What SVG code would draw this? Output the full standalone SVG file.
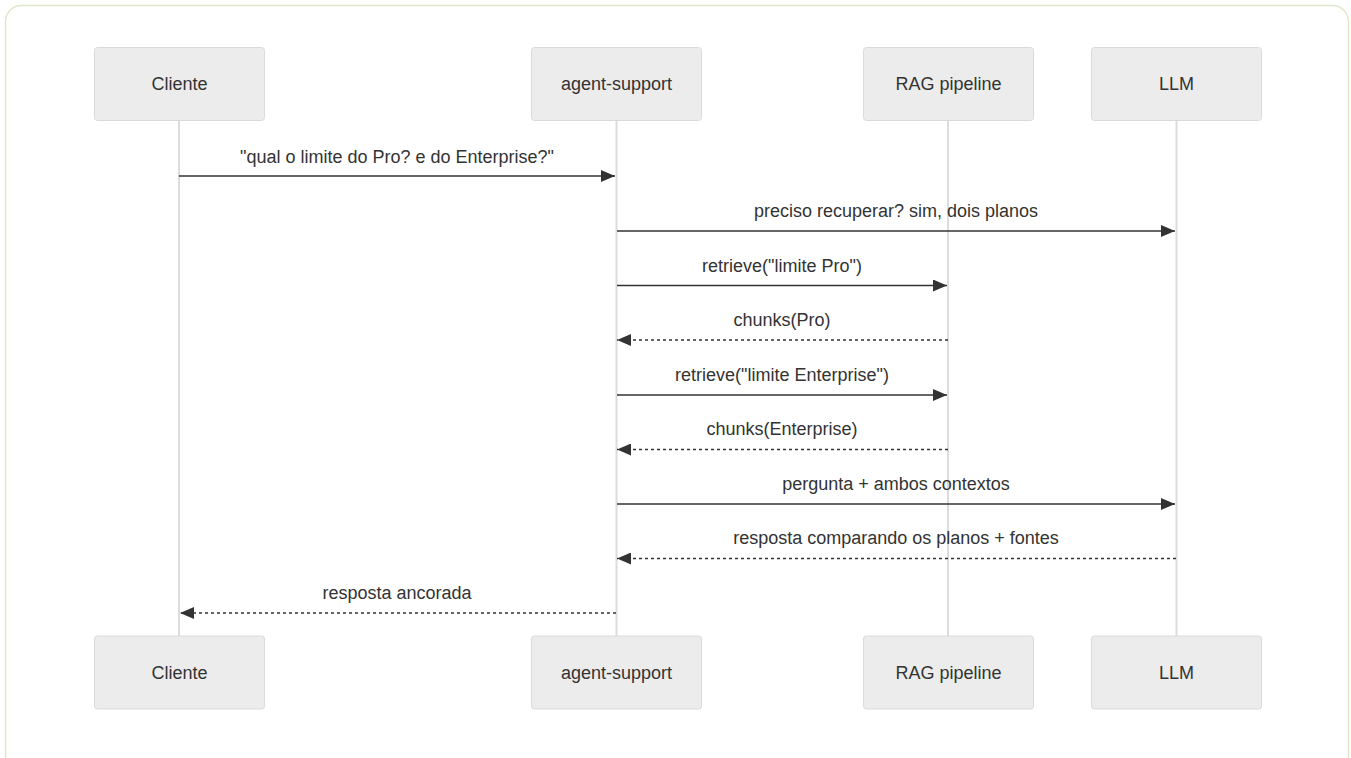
<svg xmlns="http://www.w3.org/2000/svg" width="1351" height="758" viewBox="0 0 1351 758">
<style>
.frame{fill:#fff;stroke:#dde8cc;stroke-width:1.5}
.actor{fill:#ececec;stroke:#dadada;stroke-width:1}
.life{stroke:#dcdcdc;stroke-width:2}
.lbl{font-family:"Liberation Sans",Arial,sans-serif;font-size:18px;fill:#333;text-anchor:middle}
.msg{stroke:#333;stroke-width:1.5;fill:none}
.dash{stroke-dasharray:3,3}
</style>
<defs>
<marker id="ah" markerWidth="14" markerHeight="12" refX="14" refY="6" orient="auto" markerUnits="userSpaceOnUse">
<path d="M0,0 L14,6 L0,12 z" fill="#333"/>
</marker>
</defs>
<rect class="frame" x="5.5" y="5.5" width="1343" height="770" rx="16"/>
<g id="lifelines">
<line class="life" x1="179" y1="121" x2="179" y2="636"/>
<line class="life" x1="616.5" y1="121" x2="616.5" y2="636"/>
<line class="life" x1="948" y1="121" x2="948" y2="636"/>
<line class="life" x1="1176.5" y1="121" x2="1176.5" y2="636"/>
</g>
<g id="cliente-top"><rect class="actor" x="94.5" y="47.5" width="170" height="73" rx="3"/><text class="lbl" x="179.5" y="90">Cliente</text></g>
<g id="agent-top"><rect class="actor" x="531.5" y="47.5" width="170" height="73" rx="3"/><text class="lbl" x="616.5" y="90">agent-support</text></g>
<g id="rag-top"><rect class="actor" x="863.5" y="47.5" width="170" height="73" rx="3"/><text class="lbl" x="948.5" y="90">RAG pipeline</text></g>
<g id="llm-top"><rect class="actor" x="1091.5" y="47.5" width="170" height="73" rx="3"/><text class="lbl" x="1176.5" y="90">LLM</text></g>
<g id="cliente-bottom"><rect class="actor" x="94.5" y="636" width="170" height="73" rx="3"/><text class="lbl" x="179.5" y="679">Cliente</text></g>
<g id="agent-bottom"><rect class="actor" x="531.5" y="636" width="170" height="73" rx="3"/><text class="lbl" x="616.5" y="679">agent-support</text></g>
<g id="rag-bottom"><rect class="actor" x="863.5" y="636" width="170" height="73" rx="3"/><text class="lbl" x="948.5" y="679">RAG pipeline</text></g>
<g id="llm-bottom"><rect class="actor" x="1091.5" y="636" width="170" height="73" rx="3"/><text class="lbl" x="1176.5" y="679">LLM</text></g>
<g id="connectors">
<line class="msg" x1="179" y1="176" x2="615" y2="176" marker-end="url(#ah)"/>
<text class="lbl" x="397" y="163">"qual o limite do Pro? e do Enterprise?"</text>
<line class="msg" x1="617" y1="231" x2="1175" y2="231" marker-end="url(#ah)"/>
<text class="lbl" x="896" y="217">preciso recuperar? sim, dois planos</text>
<line class="msg" x1="617" y1="285.5" x2="947" y2="285.5" marker-end="url(#ah)"/>
<text class="lbl" x="782" y="272">retrieve("limite Pro")</text>
<line class="msg dash" x1="948" y1="340" x2="617" y2="340" marker-end="url(#ah)"/>
<text class="lbl" x="782" y="326">chunks(Pro)</text>
<line class="msg" x1="617" y1="395" x2="947" y2="395" marker-end="url(#ah)"/>
<text class="lbl" x="782" y="381">retrieve("limite Enterprise")</text>
<line class="msg dash" x1="948" y1="449.5" x2="617" y2="449.5" marker-end="url(#ah)"/>
<text class="lbl" x="782" y="435">chunks(Enterprise)</text>
<line class="msg" x1="617" y1="504" x2="1175" y2="504" marker-end="url(#ah)"/>
<text class="lbl" x="896" y="490">pergunta + ambos contextos</text>
<line class="msg dash" x1="1176" y1="558.5" x2="617" y2="558.5" marker-end="url(#ah)"/>
<text class="lbl" x="896" y="544">resposta comparando os planos + fontes</text>
<line class="msg dash" x1="616" y1="613" x2="180" y2="613" marker-end="url(#ah)"/>
<text class="lbl" x="397" y="599">resposta ancorada</text>
</g>
</svg>
